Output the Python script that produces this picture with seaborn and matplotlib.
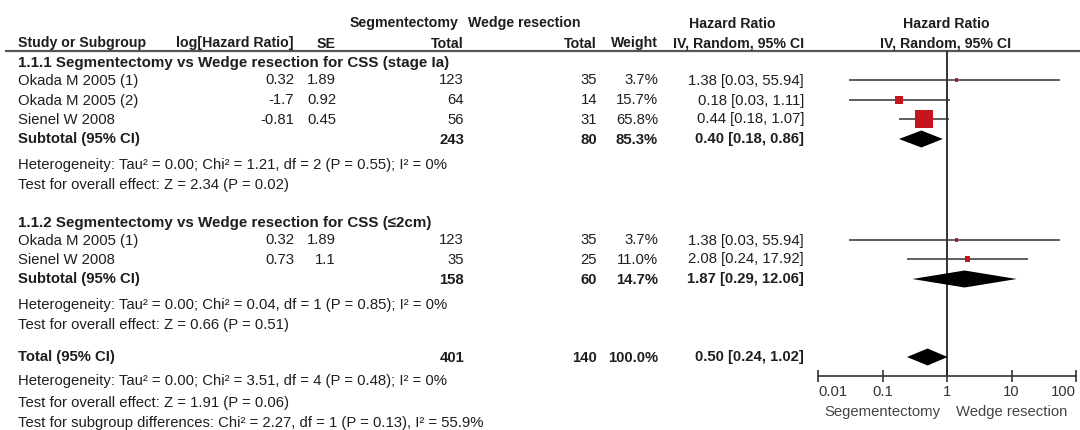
import pandas as pd
import seaborn as sns
import matplotlib.pyplot as plt

sns.set_theme(style='white')
plt.rcParams['font.family'] = ['Liberation Sans', 'DejaVu Sans']

# ---- data ----
g1_study = ['Okada M 2005 (1)', 'Okada M 2005 (2)', 'Sienel W 2008']
g1_loghr = ['0.32', '-1.7', '-0.81']
g1_se = ['1.89', '0.92', '0.45']
g1_seg = [123, 64, 56]
g1_wedge = [35, 14, 31]
g1_weight = [3.7, 15.7, 65.8]
g1_hr = [1.38, 0.18, 0.44]
g1_lo = [0.03, 0.03, 0.18]
g1_hi = [55.94, 1.11, 1.07]

g2_study = ['Okada M 2005 (1)', 'Sienel W 2008']
g2_loghr = ['0.32', '0.73']
g2_se = ['1.89', '1.1']
g2_seg = [123, 35]
g2_wedge = [35, 25]
g2_weight = [3.7, 11.0]
g2_hr = [1.38, 2.08]
g2_lo = [0.03, 0.24]
g2_hi = [55.94, 17.92]

sub_seg = [243, 158]
sub_wedge = [80, 60]
sub_weight = [85.3, 14.7]
sub_hr = [0.40, 1.87]
sub_lo = [0.18, 0.29]
sub_hi = [0.86, 12.06]

tot_seg, tot_wedge, tot_weight = 401, 140, 100.0
tot_hr, tot_lo, tot_hi = 0.50, 0.24, 1.02

group_titles = ['1.1.1 Segmentectomy vs Wedge resection for CSS (stage Ia)',
                '1.1.2 Segmentectomy vs Wedge resection for CSS (≤2cm)']
group_het = ['Heterogeneity: Tau² = 0.00; Chi² = 1.21, df = 2 (P = 0.55); I² = 0%',
             'Heterogeneity: Tau² = 0.00; Chi² = 0.04, df = 1 (P = 0.85); I² = 0%']
group_test = ['Test for overall effect: Z = 2.34 (P = 0.02)',
              'Test for overall effect: Z = 0.66 (P = 0.51)']
total_het = 'Heterogeneity: Tau² = 0.00; Chi² = 3.51, df = 4 (P = 0.48); I² = 0%'
total_test = 'Test for overall effect: Z = 1.91 (P = 0.06)'
subgroup_test = 'Test for subgroup differences: Chi² = 2.27, df = 1 (P = 0.13), I² = 55.9%'

ticks = [0.01, 0.1, 1, 10, 100]
tick_labels = ['0.01', '0.1', '1', '10', '100']

# ---- layout (pixel rows) ----
W, H = 1080, 430
g1_rows = [80, 100, 119]
g2_rows = [240, 259]
title_rows = [62, 222]
sub_rows = [139, 279]
het_rows = [164, 304]
test_rows = [184, 324]
tot_row, tot_het_row, tot_test_row, subg_row = 357, 381, 402, 423
ax_top, ax_bot = 51, 376
fx0, fx1 = 818, 1076

FS = 10.7
TXT = '#1e1e1e'
RED = '#c4161c'

fig = plt.figure(figsize=(W / 100, H / 100), dpi=100)
ax = fig.add_axes([0, 0, 1, 1])
ax.set_xlim(0, W)
ax.set_ylim(H, 0)
ax.axis('off')


def put(x, y, s, ha='left', bold=False, size=FS, **kw):
    ax.text(x, y + 4.5, s, ha=ha, va='baseline', fontsize=size, color=TXT,
            fontweight='bold' if bold else 'normal', **kw)


def ci(hr, lo, hi):
    return f'{hr:.2f} [{lo:.2f}, {hi:.2f}]'


# header (bold headers are a bit condensed in the original)
HS = 10.2
put(458, 23, 'Segmentectomy', ha='right', bold=True, size=HS)
put(468, 23, 'Wedge resection', bold=True, size=HS)
put(732, 23, 'Hazard Ratio', ha='center', bold=True, size=HS)
put(946, 23, 'Hazard Ratio', ha='center', bold=True, size=HS)
put(18, 43, 'Study or Subgroup', bold=True, size=HS)
put(294, 43, 'log[Hazard Ratio]', ha='right', bold=True, size=HS)
put(336, 43, 'SE', ha='right', bold=True, size=HS)
put(464, 43, 'Total', ha='right', bold=True, size=HS)
put(597, 43, 'Total', ha='right', bold=True, size=HS)
put(658, 43, 'Weight', ha='right', bold=True, size=HS)
put(804, 43, 'IV, Random, 95% CI', ha='right', bold=True, size=HS)
put(946, 43, 'IV, Random, 95% CI', ha='center', bold=True, size=HS)
ax.plot([5, W], [ax_top, ax_top], color='#555555', lw=1.6, solid_capstyle='butt')

groups = [
    (g1_study, g1_loghr, g1_se, g1_seg, g1_wedge, g1_weight, g1_hr, g1_lo, g1_hi, g1_rows),
    (g2_study, g2_loghr, g2_se, g2_seg, g2_wedge, g2_weight, g2_hr, g2_lo, g2_hi, g2_rows),
]

for gi, (st, lg, se, sg, wd, wt, hr, lo, hi, rows) in enumerate(groups):
    put(18, title_rows[gi], group_titles[gi], bold=True, size=10.9)
    for i, y in enumerate(rows):
        put(18, y, st[i])
        put(294, y, lg[i], ha='right')
        put(336, y, se[i], ha='right')
        put(464, y, str(sg[i]), ha='right')
        put(597, y, str(wd[i]), ha='right')
        put(658, y, f'{wt[i]:.1f}%', ha='right')
        put(804, y, ci(hr[i], lo[i], hi[i]), ha='right')
    y = sub_rows[gi]
    put(18, y, 'Subtotal (95% CI)', bold=True)
    put(464, y, str(sub_seg[gi]), ha='right', bold=True)
    put(597, y, str(sub_wedge[gi]), ha='right', bold=True)
    put(658, y, f'{sub_weight[gi]:.1f}%', ha='right', bold=True)
    put(804, y, ci(sub_hr[gi], sub_lo[gi], sub_hi[gi]), ha='right', bold=True)
    put(18, het_rows[gi], group_het[gi])
    put(18, test_rows[gi], group_test[gi])

put(18, tot_row, 'Total (95% CI)', bold=True)
put(464, tot_row, str(tot_seg), ha='right', bold=True)
put(597, tot_row, str(tot_wedge), ha='right', bold=True)
put(658, tot_row, f'{tot_weight:.1f}%', ha='right', bold=True)
put(804, tot_row, ci(tot_hr, tot_lo, tot_hi), ha='right', bold=True)
put(18, tot_het_row, total_het)
put(18, tot_test_row, total_test)
put(18, subg_row, subgroup_test)

ax.text(940, 412, 'Segementectomy', ha='right', va='center', fontsize=FS, color='#444444')
ax.text(956, 412, 'Wedge resection', ha='left', va='center', fontsize=FS, color='#444444')

# ---- forest plot ----
fa = fig.add_axes([fx0 / W, 1 - ax_bot / H, (fx1 - fx0) / W, (ax_bot - ax_top) / H])
fa.patch.set_alpha(0)
fa.set_xscale('log')
fa.set_xlim(ticks[0], ticks[-1])
fa.set_ylim(ax_bot, ax_top)

studies = pd.DataFrame({
    'hr': g1_hr + g2_hr,
    'lo': g1_lo + g2_lo,
    'hi': g1_hi + g2_hi,
    'weight': g1_weight + g2_weight,
    'row': g1_rows + g2_rows,
})
studies['area'] = 150 * (studies['weight'] / max(studies['weight'])) ** 1.2

fa.hlines(studies['row'], studies['lo'], studies['hi'], color='#333333', lw=1.1, zorder=2)
amin, amax = studies['area'].min(), studies['area'].max()
sns.scatterplot(data=studies, x='hr', y='row', size='area', sizes=(amin, amax),
                size_norm=(amin, amax), marker='s', color=RED, edgecolor=RED,
                linewidth=0, legend=False, ax=fa, zorder=3)


def diamond(hr, lo, hi, y, h=8.5):
    fa.fill([lo, hr, hi, hr], [y, y - h, y, y + h], color='black', lw=0, zorder=4)


for gi in range(2):
    diamond(sub_hr[gi], sub_lo[gi], sub_hi[gi], sub_rows[gi])
diamond(tot_hr, tot_lo, tot_hi, tot_row)

fa.axvline(1, color='#222222', lw=1.3, zorder=1)

sns.despine(ax=fa, left=True, top=True, right=True)
fa.spines['bottom'].set_color('#333333')
fa.spines['bottom'].set_linewidth(1.2)
fa.set_xticks(ticks)
fa.set_xticklabels(tick_labels)
fa.minorticks_off()
fa.set_yticks([])
fa.set_xlabel('')
fa.set_ylabel('')
fa.tick_params(axis='x', direction='inout', length=9, width=1.2, color='#333333',
               labelsize=FS, labelcolor='#333333', pad=2, bottom=True)
labs = fa.get_xticklabels()
labs[0].set_horizontalalignment('left')
labs[-1].set_horizontalalignment('right')

fig.savefig('out.png', dpi=100, facecolor='white')
